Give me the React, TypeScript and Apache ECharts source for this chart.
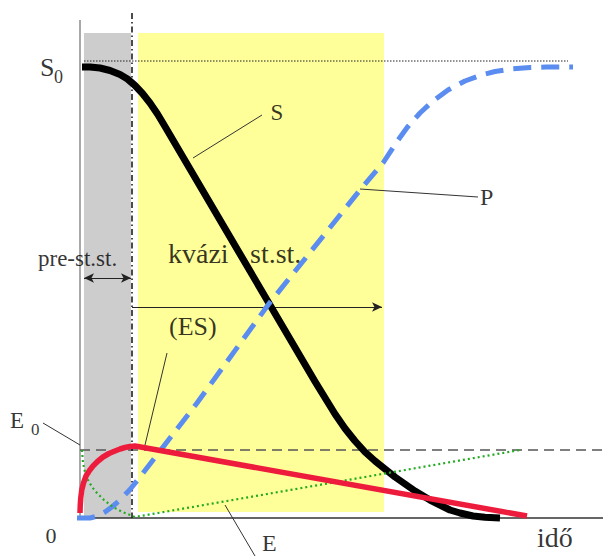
import React, { useEffect, useRef } from "react";
import * as echarts from "echarts";

// time (x) and concentration (y) in schematic units
const S_CURVE: [number, number][] = [
  [0.4, 90.2], [2, 90.2], [4, 90], [6, 89.5], [8, 88.7], [9.5, 87.8], [11, 86.5], [12.5, 84.9],
  [14, 83], [15.5, 80.8], [17, 78.3], [24, 66.4], [38, 42.6], [47, 27.3], [49.4, 23.4], [51, 20.8],
  [53, 17.9], [55, 15.4], [57, 13.2], [59, 11.4], [61, 9.8], [63, 8.2], [65, 6.8], [67, 5.4],
  [70, 3.6], [72, 2.6], [74, 1.6], [76, 1], [78.6, 0.4], [81, 0.15], [84, 0],
];
const P_CURVE: [number, number][] = [
  [-0.6, 0], [2, 0], [3.5, 0.4], [5, 1.2], [6.5, 2.3], [8, 3.6], [10, 5.7], [12, 8.2],
  [23.4, 23], [37.6, 42.6], [56, 65.6], [60.6, 71], [63.2, 75], [65.5, 78.2], [68, 81],
  [70.5, 83.3], [73.6, 85.6], [77, 87.4], [80, 88.5], [83, 89.3], [86.2, 89.8], [90, 90.1],
  [93.2, 90.2], [98.6, 90.2],
];
const ES_CURVE: [number, number][] = [
  [0, 1], [0.05, 2.5], [0.15, 4], [0.35, 5.6], [0.7, 7], [1.2, 8.4], [1.9, 9.5], [2.6, 10.4],
  [3.5, 11.3], [4.6, 12.2], [5.8, 12.9], [7, 13.4], [8, 13.8], [9, 14.1], [10, 14.3], [11, 14.4],
  [89.4, 0.4],
];
const E_CURVE: [number, number][] = [
  [0.4, 13.6], [0.5, 12.3], [0.6, 11], [1, 9.2], [1.6, 7.6], [2.4, 6.2], [3.4, 5], [4.8, 3.6],
  [6.6, 2.2], [8.3, 1.3], [10, 0.6], [11, 0.2], [88, 13.6],
];
const S0_LEVEL = 91.4;
const E0_LEVEL = 13.6;
const PRE_PHASE = [0.8, 10.2];
const QSS_PHASE = [11.6, 60.8];
const PHASE_SWITCH = 10.4;
const QSS_ARROW_END = 60.4;
const PRE_ARROW_LEVEL = 48;
const QSS_ARROW_LEVEL = 42.2;
const LEADER_S: [number, number][] = [[22.6, 72], [36.4, 80.6]];
const LEADER_P: [number, number][] = [[56, 65.8], [79.6, 64.2]];
const LEADER_ES: [number, number][] = [[17.4, 33], [13, 14.6]];
const LEADER_E0: [number, number][] = [[-7.4, 19], [0, 14.6]];
const LEADER_E: [number, number][] = [[29, 2.6], [35, -7.6]];

// annotation texts, anchored at their left edge / vertical middle (in data units)
const LABEL_TEXTS = ["S", "0", "S", "P", "pre-st.st.", "kvázi", "st.st.", "(ES)", "E", "0", "0", "E", "idő"];
const LABEL_ANCHORS: [number, number][] = [
  [-8, 90.2], [-5.2, 88.2], [38.1, 81.2], [80, 64.2], [-8.4, 52], [17.6, 52.9], [34, 52.9],
  [17.8, 38.4], [-14, 19.6], [-9.8, 17.8], [-6.9, -3.4], [36.4, -5], [91.4, -3.9],
];
const LABEL_SIZES = [26, 18, 23, 24, 23, 28, 28, 26, 23, 17, 22, 24, 28];

const FONT_FAMILY = "Liberation Serif";

function line(data: any, color: string, width: number, type: any, z: number) {
  return {
    type: "line",
    data,
    symbol: "none",
    showSymbol: false,
    silent: true,
    z,
    smooth: false,
    lineStyle: { color, width, type, cap: "butt", join: "round" },
  };
}

export default function App() {
  const ref = useRef<HTMLDivElement>(null);
  useEffect(() => {
    const chart = echarts.init(ref.current!, null, { renderer: "svg" });
    chart.setOption({
      animation: false,
      textStyle: { fontFamily: FONT_FAMILY },
      grid: { left: 0, right: 0, top: 0, bottom: 0 },
      xAxis: { type: "value", min: -16, max: 104.6, show: false },
      yAxis: { type: "value", min: -7.6, max: 103.6, show: false },
      series: [
        {
          type: "line",
          data: [],
          z: 1,
          silent: true,
          markArea: {
            silent: true,
            data: [
              [
                { xAxis: PRE_PHASE[0], yAxis: 0, itemStyle: { color: "#cdcdcd" } },
                { xAxis: PRE_PHASE[1], yAxis: 97 },
              ],
              [
                { xAxis: QSS_PHASE[0], yAxis: 1.2, itemStyle: { color: "#ffff9a" } },
                { xAxis: QSS_PHASE[1], yAxis: 97 },
              ],
            ],
          },
        },
        line([[0, 0], [0, 99.6]], "#8c8c8c", 1.5, "solid", 3),
        line([[0, 0], [104.6, 0]], "#333333", 1.5, "solid", 3),
        line([[0.8, S0_LEVEL], [97.6, S0_LEVEL]], "#222222", 1, [1.5, 1.5], 3),
        line([[0, E0_LEVEL], [104.6, E0_LEVEL]], "#555555", 1.6, [10, 6], 3),
        line([[PHASE_SWITCH, 101], [PHASE_SWITCH, 0]], "#111111", 1.5, [6, 3, 1.5, 3], 4),
        line(LEADER_S, "#333333", 1, "solid", 4),
        line(LEADER_P, "#333333", 1, "solid", 4),
        line(LEADER_ES, "#333333", 1, "solid", 4),
        line(LEADER_E0, "#333333", 1, "solid", 4),
        line(LEADER_E, "#333333", 1, "solid", 4),
        line(S_CURVE, "#000000", 7, "solid", 5),
        line(P_CURVE, "#5b8cef", 5, [18, 10], 6),
        line(E_CURVE, "#22aa22", 2.2, [2, 3], 6),
        line(ES_CURVE, "#ee1c3c", 5.5, "solid", 7),
        {
          type: "line",
          data: [],
          z: 8,
          silent: true,
          markLine: {
            silent: true,
            symbol: ["arrow", "arrow"],
            symbolSize: [7, 10],
            label: { show: false },
            lineStyle: { color: "#222222", width: 1.2, type: "solid" },
            data: [
              [{ coord: [PRE_PHASE[0], PRE_ARROW_LEVEL] }, { coord: [PRE_PHASE[1], PRE_ARROW_LEVEL] }],
              [
                { coord: [PHASE_SWITCH, QSS_ARROW_LEVEL], symbol: "none" },
                { coord: [QSS_ARROW_END, QSS_ARROW_LEVEL], symbol: "arrow" },
              ],
            ],
          },
        },
        {
          type: "scatter",
          z: 20,
          silent: true,
          symbol: "circle",
          symbolSize: 1,
          itemStyle: { color: "rgba(0,0,0,0)" },
          data: LABEL_TEXTS.map((text, i) => ({
            value: LABEL_ANCHORS[i],
            label: {
              show: true,
              formatter: text,
              position: "inside",
              align: "left",
              verticalAlign: "middle",
              fontSize: LABEL_SIZES[i],
              fontFamily: FONT_FAMILY,
              color: "#000",
            },
          })),
        },
      ],
    });
    return () => chart.dispose();
  }, []);
  return (
    <div
      ref={ref}
      style={{ position: "fixed", left: 0, top: 0, width: 603, height: 556, background: "#fff" }}
    />
  );
}
